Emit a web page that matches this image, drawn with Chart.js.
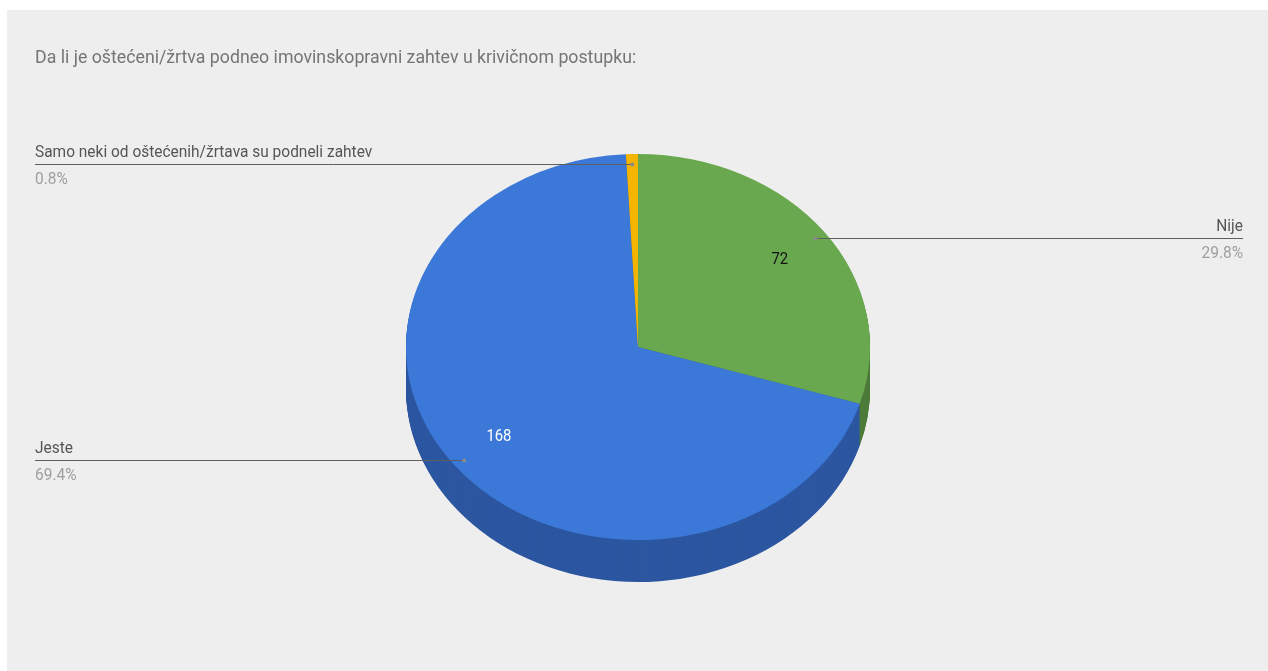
<!DOCTYPE html>
<html>
<head>
<meta charset="utf-8">
<script src="https://cdn.jsdelivr.net/npm/chart.js@4.4.1/dist/chart.umd.min.js"></script>
<style>
  html, body { margin: 0; padding: 0; background: #ffffff; overflow: hidden; }
  #c { position: absolute; left: 0; top: 0; }
</style>
</head>
<body>
<canvas id="c" width="1268" height="671"></canvas>
<script>
// ---- data ----
const chartTitle = 'Da li je oštećeni/žrtva podneo imovinskopravni zahtev u krivičnom postupku:';
const categories = ['Nije', 'Jeste', 'Samo neki od oštećenih/žrtava su podneli zahtev'];
const counts = [72, 168, 2];

// ---- styling ----
const topColors = ['#6aa84f', '#3c78d8', '#f4b400'];
const sideColors = ['#4d7c39', '#2c56a0', '#b88700'];
const valueTextColors = ['#111111', '#ffffff', '#111111'];
const TILT = 0.832;      // vertical squash of the pie face
const DEPTH = 42;        // thickness of the pie rim in px
const FONT = 'Roboto, "Noto Sans", sans-serif';

// text drawn slightly narrowed, like a condensed face
function condensedText(ctx, text, x, y, align, sx) {
  ctx.save();
  ctx.translate(x, y);
  ctx.scale(sx, 1);
  ctx.textAlign = align;
  ctx.fillText(text, 0, 0);
  ctx.restore();
}

const pie3d = {
  id: 'pie3d',
  beforeDraw(chart) {
    const ctx = chart.ctx;
    ctx.save();
    ctx.fillStyle = '#ffffff';
    ctx.fillRect(0, 0, chart.width, chart.height);
    ctx.fillStyle = '#eeeeee';
    ctx.fillRect(7, 10, chart.width - 7, chart.height - 10);
    ctx.fillStyle = '#757575';
    ctx.font = '18px ' + FONT;
    ctx.textBaseline = 'alphabetic';
    condensedText(ctx, chartTitle, 35, 63, 'left', 0.985);
    ctx.restore();
  },
  beforeDatasetsDraw(chart) {
    const ctx = chart.ctx;
    const arcs = chart.getDatasetMeta(0).data;
    const cx = arcs[0].x, cy = arcs[0].y, R = arcs[0].outerRadius;
    // rim: stacked copies of each slice, deepest first
    for (let d = DEPTH; d >= 1; d--) {
      arcs.forEach((arc, i) => {
        ctx.beginPath();
        ctx.moveTo(cx, cy + d);
        ctx.ellipse(cx, cy + d, R, R * TILT, 0, arc.startAngle, arc.endAngle);
        ctx.closePath();
        ctx.fillStyle = sideColors[i];
        ctx.fill();
      });
    }
    // squash the slices drawn by the controller into an ellipse
    ctx.save();
    ctx.translate(cx, cy);
    ctx.scale(1, TILT);
    ctx.translate(-cx, -cy);
  },
  afterDatasetsDraw(chart) {
    const ctx = chart.ctx;
    ctx.restore();
    const arcs = chart.getDatasetMeta(0).data;
    const cx = arcs[0].x, cy = arcs[0].y, R = arcs[0].outerRadius;
    const total = counts.reduce((a, b) => a + b, 0);
    ctx.save();
    arcs.forEach((arc, i) => {
      const mid = (arc.startAngle + arc.endAngle) / 2;
      const c = Math.cos(mid), s = Math.sin(mid);
      // value inside the slice
      if (counts[i] / total > 0.05) {
        ctx.font = '16px ' + FONT;
        ctx.fillStyle = valueTextColors[i];
        ctx.textBaseline = 'middle';
        condensedText(ctx, String(counts[i]), cx + c * R * 0.76, cy + s * R * 0.76 * TILT, 'center', 0.93);
      }
      // leader line with category and share
      const ax = cx + c * R * 0.95;
      const ay = Math.round(cy + s * R * 0.95 * TILT) + 0.5;
      const left = c < 0;
      const ex = left ? 35 : 1243;
      ctx.strokeStyle = '#5f5f5f';
      ctx.lineWidth = 1;
      ctx.beginPath();
      ctx.moveTo(ex, ay);
      ctx.lineTo(ax, ay);
      ctx.stroke();
      ctx.fillStyle = '#8a8a8a';
      ctx.beginPath();
      ctx.arc(ax, ay, 2, 0, Math.PI * 2);
      ctx.fill();
      const align = left ? 'left' : 'right';
      ctx.textBaseline = 'alphabetic';
      ctx.font = '17px ' + FONT;
      ctx.fillStyle = '#555555';
      condensedText(ctx, categories[i], ex, ay - 8, align, 0.91);
      ctx.fillStyle = '#9e9e9e';
      condensedText(ctx, (counts[i] / total * 100).toFixed(1) + '%', ex, ay + 19, align, 0.91);
    });
    ctx.restore();
  }
};

new Chart(document.getElementById('c'), {
  type: 'pie',
  data: {
    labels: categories,
    datasets: [{
      data: counts,
      backgroundColor: topColors,
      borderWidth: 0,
      hoverOffset: 0,
      offset: 0,
      radius: 232
    }]
  },
  options: {
    responsive: false,
    animation: false,
    events: [],
    layout: { padding: { left: 8, right: 0, top: 23, bottom: 0 } },
    plugins: {
      legend: { display: false },
      title: { display: false },
      tooltip: { enabled: false }
    }
  },
  plugins: [pie3d]
});
</script>
</body>
</html>
